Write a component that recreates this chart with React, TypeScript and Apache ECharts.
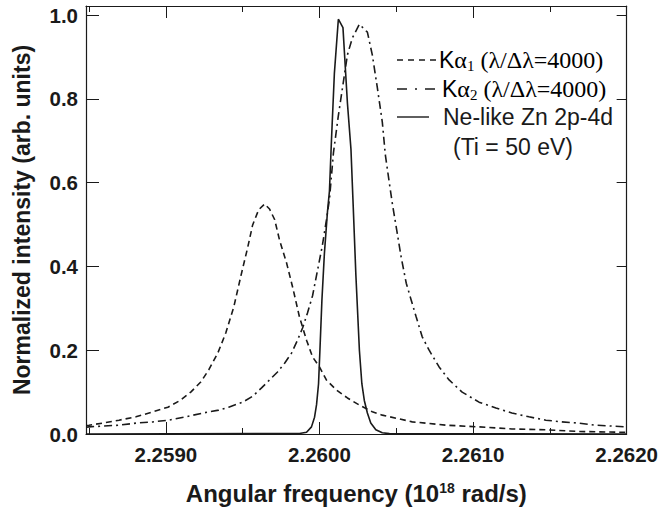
import React, { useEffect, useRef } from 'react';
import * as echarts from 'echarts';

// Tick values
const xMajorTicks = [2.259, 2.26, 2.261, 2.262];
const xMinorTicks = [2.2585, 2.2595, 2.2605, 2.2615];
const yTicks = [0, 0.2, 0.4, 0.6, 0.8, 1.0];

// K-alpha 1 (dashed)
const ka1Freq = [2.258481, 2.2585, 2.258591, 2.258695, 2.258805, 2.258916, 2.259013, 2.259097, 2.259162, 2.259227, 2.259279, 2.259338, 2.25939, 2.259442, 2.259487, 2.259532, 2.259565, 2.259604, 2.259643, 2.259675, 2.259708, 2.25974, 2.259786, 2.259825, 2.25987, 2.259916, 2.259955, 2.26, 2.260045, 2.26011, 2.260182, 2.26026, 2.260344, 2.260409, 2.260604, 2.260825, 2.261039, 2.261253, 2.261474, 2.261688, 2.262];
const ka1Int = [0.02, 0.021, 0.026, 0.033, 0.041, 0.053, 0.064, 0.081, 0.1, 0.124, 0.153, 0.193, 0.241, 0.303, 0.375, 0.444, 0.499, 0.535, 0.549, 0.537, 0.512, 0.463, 0.408, 0.351, 0.279, 0.224, 0.184, 0.16, 0.129, 0.105, 0.086, 0.069, 0.053, 0.045, 0.029, 0.021, 0.017, 0.012, 0.01, 0.006, 0.004];

// K-alpha 2 (dash-dot)
const ka2Freq = [2.258481, 2.2585, 2.258591, 2.258695, 2.258805, 2.258916, 2.259019, 2.25913, 2.25924, 2.259344, 2.259409, 2.2595, 2.259565, 2.259623, 2.259675, 2.259727, 2.259773, 2.259818, 2.259857, 2.25989, 2.259922, 2.259955, 2.259987, 2.260019, 2.260045, 2.260065, 2.260091, 2.260123, 2.260182, 2.260214, 2.26026, 2.260312, 2.260344, 2.260377, 2.260409, 2.260429, 2.260455, 2.260474, 2.260506, 2.260532, 2.260565, 2.260597, 2.26063, 2.260669, 2.260714, 2.260779, 2.260844, 2.260929, 2.261039, 2.261149, 2.261253, 2.261364, 2.261474, 2.261578, 2.261688, 2.261799, 2.262];
const ka2Int = [0.016, 0.017, 0.019, 0.021, 0.026, 0.029, 0.033, 0.041, 0.05, 0.057, 0.064, 0.076, 0.09, 0.11, 0.129, 0.148, 0.169, 0.193, 0.224, 0.253, 0.289, 0.33, 0.39, 0.45, 0.51, 0.56, 0.671, 0.76, 0.905, 0.945, 0.978, 0.959, 0.905, 0.826, 0.745, 0.666, 0.599, 0.551, 0.48, 0.422, 0.36, 0.32, 0.279, 0.232, 0.2, 0.16, 0.129, 0.1, 0.076, 0.062, 0.05, 0.041, 0.033, 0.029, 0.026, 0.021, 0.017];

// Ne-like Zn 2p-4d (solid)
const znFreq = [2.258481, 2.25987, 2.259916, 2.259948, 2.259968, 2.259981, 2.259994, 2.260003, 2.260016, 2.260032, 2.260052, 2.260065, 2.260078, 2.260097, 2.260123, 2.260153, 2.260182, 2.260205, 2.260218, 2.260237, 2.26026, 2.260276, 2.260292, 2.260312, 2.260334, 2.260367, 2.260409, 2.260455, 2.262];
const znInt = [0, 0.001, 0.004, 0.017, 0.04, 0.07, 0.12, 0.2, 0.32, 0.43, 0.53, 0.58, 0.7, 0.86, 0.99, 0.97, 0.79, 0.68, 0.56, 0.38, 0.2, 0.12, 0.08, 0.05, 0.026, 0.01, 0.003, 0.001, 0];

const SANS = '"Liberation Sans", Arial, Helvetica, sans-serif';
const SERIF = '"Liberation Serif", "Times New Roman", serif';
const INK = '#1a1a1a';

export default function App() {
  const ref = useRef<HTMLDivElement>(null);

  useEffect(() => {
    const chart = echarts.init(ref.current as HTMLDivElement, null, { renderer: 'svg' });
    const zip = (a: number[], b: number[]) => a.map((x, i) => [x, b[i]]);

    const xMin = 2.25848;
    const xMax = 2.262;
    const yMin = 0;
    const yMax = 1.0215;

    const baseX = { type: 'value' as const, min: xMin, max: xMax, splitLine: { show: false } };
    const baseY = { type: 'value' as const, min: yMin, max: yMax, splitLine: { show: false } };

    const legendRich = {
      s: { fontFamily: SANS, fontSize: 23, color: INK },
      g: { fontFamily: SERIF, fontSize: 24, color: INK },
      sub: { fontFamily: SERIF, fontSize: 15, color: INK, verticalAlign: 'bottom', padding: [12, 0, 0, 0] },
    };

    const option: any = {
      animation: false,
      backgroundColor: '#ffffff',
      grid: { left: 86, right: 33, top: 6, bottom: 79, containLabel: false },
      xAxis: [
        {
          ...baseX,
          position: 'bottom',
          axisLine: { show: true, onZero: false, lineStyle: { color: INK, width: 1.2 } },
          axisTick: { show: true, inside: true, length: 12, customValues: xMajorTicks, lineStyle: { color: INK, width: 1 } },
          axisLabel: {
            show: true,
            customValues: xMajorTicks,
            formatter: (v: number) => v.toFixed(4),
            fontFamily: SANS,
            fontWeight: 'bold',
            fontSize: 20.5,
            color: INK,
            margin: 10,
          },
          name: 'Angular frequency (10{sup|18} rad/s)',
          nameLocation: 'middle',
          nameGap: 47,
          nameTextStyle: {
            fontFamily: SANS,
            fontWeight: 'bold',
            fontSize: 24,
            color: INK,
            rich: {
              sup: { fontFamily: SANS, fontWeight: 'bold', fontSize: 14, color: INK, verticalAlign: 'top', padding: [0, 0, 10, 0] },
            },
          },
        },
        {
          ...baseX,
          position: 'bottom',
          axisLine: { show: false, onZero: false },
          axisTick: { show: true, inside: true, length: 6, customValues: xMinorTicks, lineStyle: { color: INK, width: 1 } },
          axisLabel: { show: false },
        },
        {
          ...baseX,
          position: 'top',
          axisLine: { show: true, onZero: false, lineStyle: { color: INK, width: 1.2 } },
          axisTick: { show: true, inside: true, length: 12, customValues: xMajorTicks, lineStyle: { color: INK, width: 1 } },
          axisLabel: { show: false },
        },
        {
          ...baseX,
          position: 'top',
          axisLine: { show: false, onZero: false },
          axisTick: { show: true, inside: true, length: 6, customValues: xMinorTicks, lineStyle: { color: INK, width: 1 } },
          axisLabel: { show: false },
        },
      ],
      yAxis: [
        {
          ...baseY,
          position: 'left',
          axisLine: { show: true, onZero: false, lineStyle: { color: INK, width: 1.2 } },
          axisTick: { show: true, inside: true, length: 13, customValues: yTicks, lineStyle: { color: INK, width: 1 } },
          axisLabel: {
            show: true,
            customValues: yTicks,
            formatter: (v: number) => v.toFixed(1),
            fontFamily: SANS,
            fontWeight: 'bold',
            fontSize: 20.5,
            color: INK,
            margin: 8,
          },
          name: 'Normalized intensity (arb. units)',
          nameLocation: 'middle',
          nameGap: 53,
          nameTextStyle: { fontFamily: SANS, fontWeight: 'bold', fontSize: 23, color: INK },
        },
        {
          ...baseY,
          position: 'right',
          axisLine: { show: true, onZero: false, lineStyle: { color: INK, width: 1.2 } },
          axisTick: { show: true, inside: true, length: 10, customValues: yTicks, lineStyle: { color: INK, width: 1 } },
          axisLabel: { show: false },
        },
      ],
      series: [
        {
          name: 'Kα1 (λ/Δλ=4000)',
          type: 'line',
          data: zip(ka1Freq, ka1Int),
          showSymbol: false,
          symbol: 'none',
          lineStyle: { color: INK, width: 1.6, type: [6, 4] },
          z: 3,
        },
        {
          name: 'Kα2 (λ/Δλ=4000)',
          type: 'line',
          data: zip(ka2Freq, ka2Int),
          showSymbol: false,
          symbol: 'none',
          lineStyle: { color: INK, width: 1.6, type: [8, 4, 2, 4] },
          z: 3,
        },
        {
          name: 'Ne-like Zn 2p-4d (Ti = 50 eV)',
          type: 'line',
          data: zip(znFreq, znInt),
          showSymbol: false,
          symbol: 'none',
          lineStyle: { color: INK, width: 1.6, type: 'solid' },
          z: 4,
        },
      ],
      graphic: [
        { type: 'line', shape: { x1: 397, y1: 60, x2: 437, y2: 60 }, style: { stroke: INK, lineWidth: 1.4, lineDash: [6, 5] } },
        {
          type: 'text', x: 439, y: 60,
          style: { text: '{s|K}{g|α}{sub|1}{g| (λ/Δλ=4000)}', rich: legendRich, verticalAlign: 'middle', align: 'left' },
        },
        { type: 'line', shape: { x1: 397, y1: 89, x2: 437, y2: 89 }, style: { stroke: INK, lineWidth: 1.4, lineDash: [10, 8, 2, 8] } },
        {
          type: 'text', x: 442, y: 89,
          style: { text: '{s|K}{g|α}{sub|2}{g| (λ/Δλ=4000)}', rich: legendRich, verticalAlign: 'middle', align: 'left' },
        },
        { type: 'line', shape: { x1: 397, y1: 117, x2: 429, y2: 117 }, style: { stroke: INK, lineWidth: 1.4 } },
        {
          type: 'text', x: 443, y: 117,
          style: { text: 'Ne-like Zn 2p-4d', font: `23px ${SANS}`, fill: INK, verticalAlign: 'middle', align: 'left' },
        },
        {
          type: 'text', x: 453, y: 147,
          style: { text: '(Ti = 50 eV)', font: `23px ${SANS}`, fill: INK, verticalAlign: 'middle', align: 'left' },
        },
      ],
    };

    chart.setOption(option);
    return () => chart.dispose();
  }, []);

  return (
    <div
      ref={ref}
      style={{ position: 'absolute', left: 0, top: 0, width: 661, height: 513, background: '#fff' }}
    />
  );
}
